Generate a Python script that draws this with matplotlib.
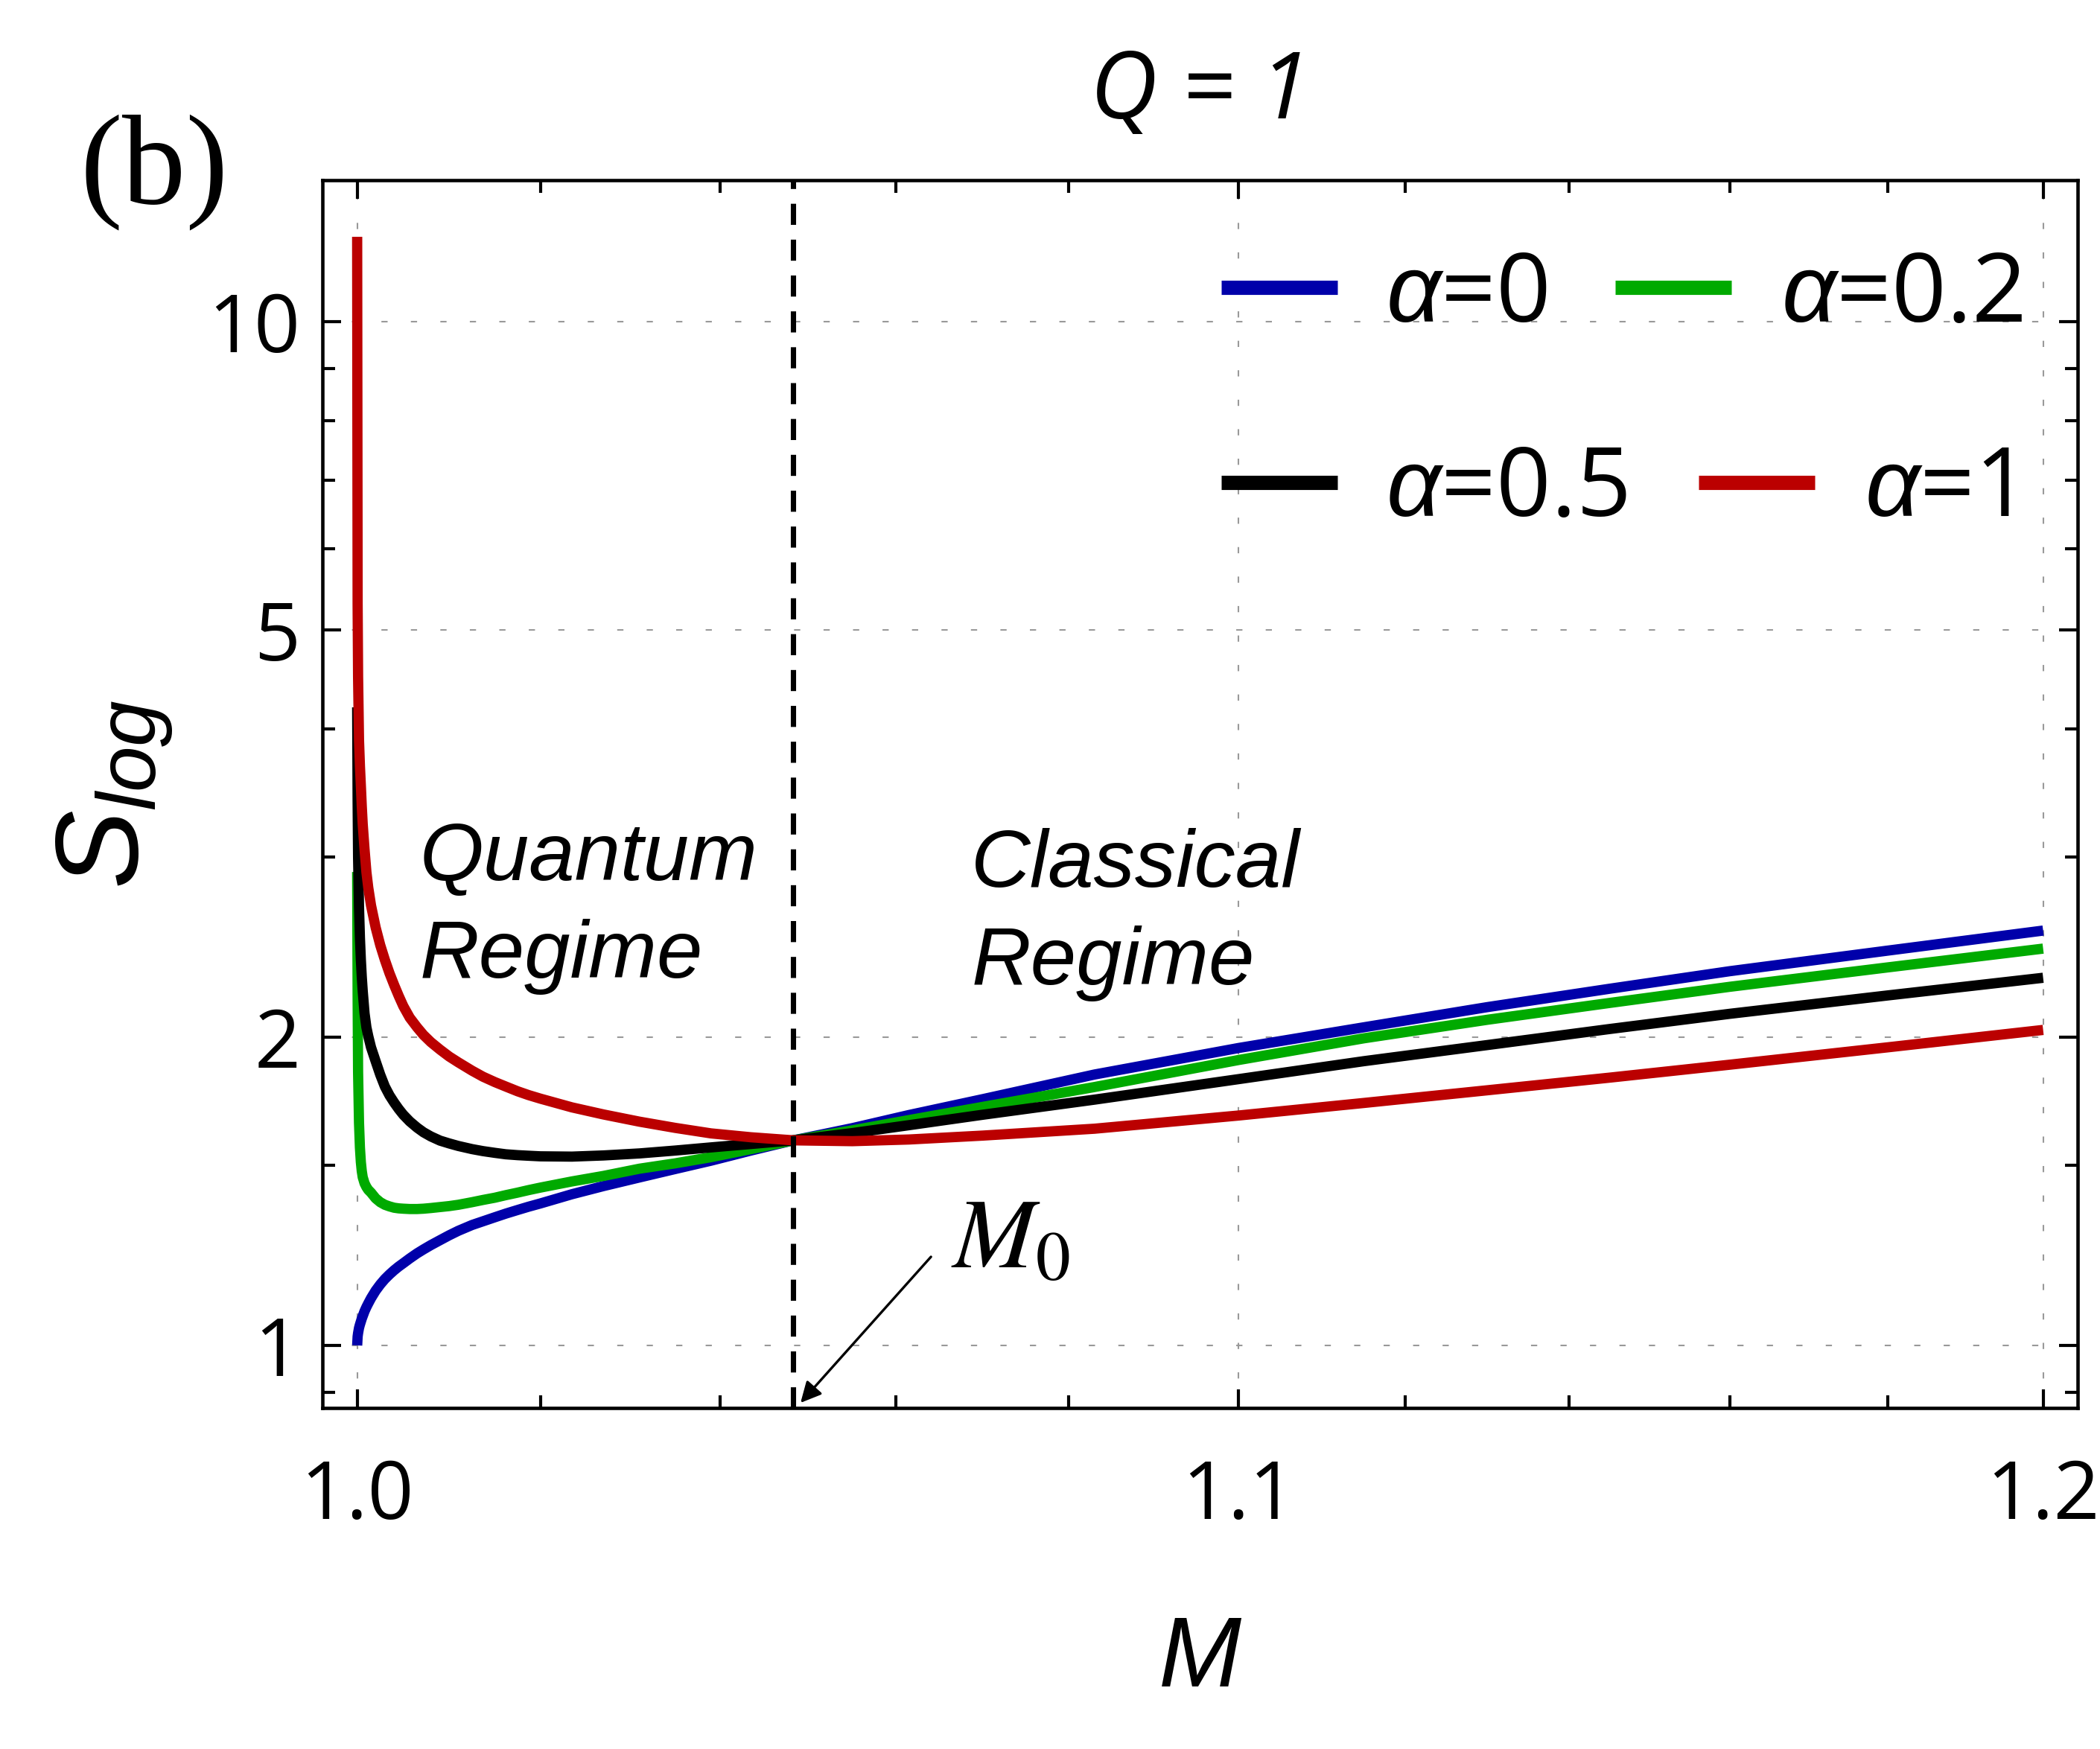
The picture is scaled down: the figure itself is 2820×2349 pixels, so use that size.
import matplotlib
matplotlib.use("Agg")
import matplotlib.pyplot as plt
from matplotlib.ticker import FixedLocator, FixedFormatter, NullFormatter
from matplotlib.lines import Line2D

# Mass grid (Q = 1) and values
M = [1.0, 1.00005, 1.0001, 1.0002, 1.0003, 1.0004, 1.0005, 1.0006, 1.0008, 1.001,
     1.0012, 1.0015, 1.002, 1.0025, 1.003, 1.0035, 1.004, 1.0045, 1.005, 1.0057,
     1.0065, 1.0072, 1.008, 1.009, 1.01, 1.011, 1.0125, 1.0137, 1.015, 1.0162,
     1.0175, 1.0187, 1.02, 1.0235, 1.027, 1.031, 1.035, 1.039, 1.0435, 1.0483,
     1.055, 1.0615, 1.07, 1.083, 1.1, 1.115, 1.13, 1.145, 1.16, 1.18, 1.2]

s_a0 = [1.0, 1.02, 1.028, 1.04, 1.048, 1.055, 1.062, 1.068, 1.08, 1.09,
        1.099, 1.112, 1.131, 1.147, 1.161, 1.173, 1.184, 1.194, 1.203, 1.216,
        1.23, 1.241, 1.253, 1.267, 1.281, 1.294, 1.311, 1.322, 1.334, 1.345,
        1.356, 1.366, 1.376, 1.405, 1.431, 1.459, 1.487, 1.515, 1.550, 1.586,
        1.630, 1.679, 1.740, 1.839, 1.952, 2.045, 2.14, 2.23, 2.32, 2.43, 2.542]

s_a02 = [2.9, 2.2, 1.85, 1.65, 1.56, 1.51, 1.48, 1.46, 1.44, 1.428,
         1.419, 1.41, 1.392, 1.38, 1.372, 1.367, 1.363, 1.361, 1.36, 1.359,
         1.359, 1.36, 1.362, 1.365, 1.368, 1.372, 1.38, 1.387, 1.394, 1.402,
         1.41, 1.418, 1.426, 1.446, 1.464, 1.488, 1.506, 1.527, 1.555, 1.586,
         1.622, 1.660, 1.71, 1.788, 1.900, 1.995, 2.08, 2.16, 2.24, 2.34, 2.441]

s_a05 = [4.2, 3.4, 3.0, 2.68, 2.5, 2.38, 2.29, 2.22, 2.11, 2.045,
         2.005, 1.955, 1.895, 1.838, 1.79, 1.755, 1.727, 1.702, 1.68, 1.655,
         1.632, 1.615, 1.60, 1.585, 1.575, 1.566, 1.555, 1.548, 1.542, 1.537,
         1.534, 1.532, 1.530, 1.529, 1.533, 1.54, 1.55, 1.561, 1.573, 1.586,
         1.612, 1.641, 1.68, 1.738, 1.82, 1.895, 1.965, 2.037, 2.108, 2.197, 2.286]

s_a1 = [12.1, 5.3, 4.5, 3.9, 3.68, 3.52, 3.36, 3.23, 3.05, 2.90,
        2.80, 2.69, 2.56, 2.46, 2.38, 2.31, 2.25, 2.195, 2.145, 2.09,
        2.045, 2.01, 1.978, 1.945, 1.915, 1.89, 1.855, 1.83, 1.808, 1.79,
        1.771, 1.756, 1.742, 1.708, 1.681, 1.654, 1.631, 1.611, 1.597, 1.586,
        1.583, 1.589, 1.603, 1.628, 1.677, 1.725, 1.775, 1.826, 1.88, 1.955, 2.033]

M0 = 1.0483

labels = ['0', '0.2', '0.5', '1']
colors = ['#0000AA', '#00AA00', '#000000', '#BB0000']

x_major = [1.0, 1.1, 1.2]
x_minor = [1.02, 1.04, 1.06, 1.08, 1.12, 1.14, 1.16, 1.18]
y_major = [1, 2, 5, 10]
y_minor = [0.9, 1.5, 3, 4, 6, 7, 8, 9]

plt.rcParams['mathtext.fontset'] = 'custom'
plt.rcParams['mathtext.it'] = 'Liberation Sans:italic'
plt.rcParams['mathtext.rm'] = 'Liberation Sans'

fig = plt.figure(figsize=(9.4, 7.83), dpi=300)
ax = fig.add_axes([0.1534, 0.195, 0.836, 0.702])
ax.set_xscale('log')
ax.set_yscale('log')

for s, c in zip([s_a0, s_a02, s_a05, s_a1], colors):
    ax.plot(M, s, color=c, lw=3.3, solid_capstyle='butt', solid_joinstyle='round', zorder=2)

ax.axvline(M0, color='black', lw=1.7, dashes=(4.0, 2.8), zorder=3)

ax.set_xlim(0.99622, 1.2045)
ax.set_ylim(0.8688, 13.745)

# ticks
ax.xaxis.set_major_locator(FixedLocator(x_major))
ax.xaxis.set_major_formatter(FixedFormatter(['1.0', '1.1', '1.2']))
ax.xaxis.set_minor_locator(FixedLocator(x_minor))
ax.xaxis.set_minor_formatter(NullFormatter())
ax.yaxis.set_major_locator(FixedLocator(y_major))
ax.yaxis.set_major_formatter(FixedFormatter([str(v) for v in y_major]))
ax.yaxis.set_minor_locator(FixedLocator(y_minor))
ax.yaxis.set_minor_formatter(NullFormatter())

ax.tick_params(which='both', direction='in', top=True, right=True, width=1)
ax.tick_params(which='major', length=6)
ax.tick_params(which='minor', length=4)
ax.tick_params(axis='x', which='major', pad=16, labelsize=26)
ax.tick_params(axis='y', which='major', pad=7, labelsize=26)
for lab in ax.get_xticklabels() + ax.get_yticklabels():
    lab.set_family('Open Sans')

for sp in ax.spines.values():
    sp.set_linewidth(1.1)

ax.grid(which='major', color='#999999', lw=0.5, linestyle=(0, (4, 15)), zorder=0)

# axis labels and title
ax.set_xlabel('$M$', fontsize=32)
ax.xaxis.set_label_coords(0.5, -0.165)
ax.set_ylabel('$S_{log}$', fontsize=38)
ax.yaxis.set_label_coords(-0.084, 0.5)
ax.set_title('Q = 1', fontsize=30, style='italic', family='Open Sans', pad=20)

fig.text(0.038, 0.884, '(b)', family='Liberation Serif', fontsize=41)

# region labels
reg = dict(transform=ax.transAxes, fontsize=26.5, style='italic',
           family='Liberation Sans', va='baseline')
ax.text(0.0554, 0.430, 'Quantum', **reg)
ax.text(0.0554, 0.3505, 'Regime', **reg)
ax.text(0.3697, 0.4245, 'Classical', **reg)
ax.text(0.3697, 0.3451, 'Regime', **reg)

# M0 marker
ax.annotate('', xy=(0.2725, 0.0042), xycoords='axes fraction',
            xytext=(0.3468, 0.1231), textcoords='axes fraction',
            arrowprops=dict(arrowstyle='-|>', color='black', lw=0.8,
                            mutation_scale=14, shrinkA=0, shrinkB=0))
ax.text(0.3582, 0.1146, '$M_0$', transform=ax.transAxes, fontsize=32,
        math_fontfamily='stix', va='baseline')

# legend drawn by hand: two rows, second column not aligned
leg_rows = [(0.9127, 0.8848), (0.7538, 0.7265)]
leg_items = [
    (0.5122, 0.5784, 0.6059, 0),
    (0.7366, 0.8028, 0.8311, 1),
    (0.5122, 0.5784, 0.6059, 2),
    (0.7841, 0.8503, 0.8787, 3),
]
for k, (x0, x1, xt, i) in enumerate(leg_items):
    yl, yt = leg_rows[k // 2]
    ax.add_line(Line2D([x0, x1], [yl, yl], transform=ax.transAxes,
                       color=colors[i], lw=4.6, solid_capstyle='butt'))
    ax.text(xt, yt, r'$\alpha$=' + labels[i], transform=ax.transAxes,
            fontsize=31, family='Open Sans', va='baseline')

fig.savefig('out.png', dpi=300)
